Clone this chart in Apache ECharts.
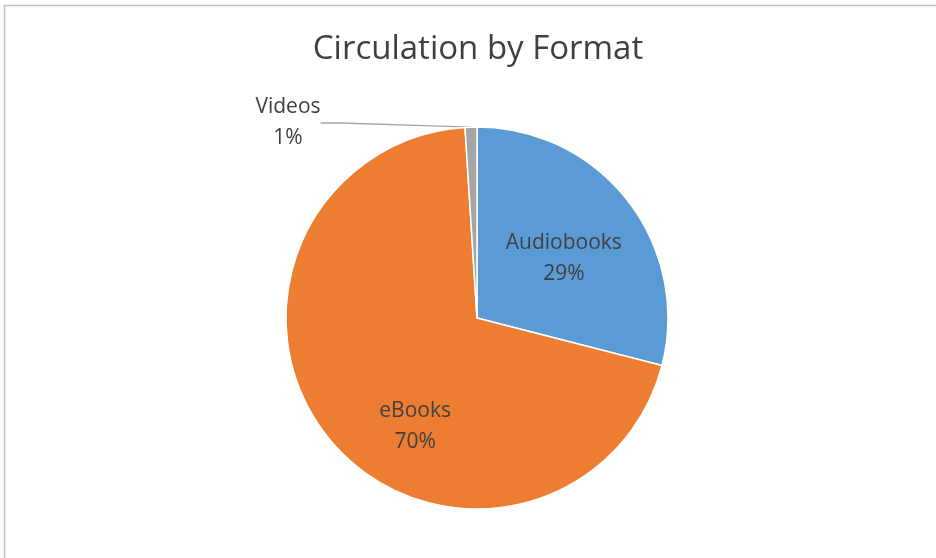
<!DOCTYPE html>
<html>
<head>
<meta charset="utf-8">
<script src="https://cdn.jsdelivr.net/npm/echarts@6/dist/echarts.min.js"></script>
<style>
  html, body { margin: 0; padding: 0; background: #fff; }
  #chart { width: 936px; height: 558px; }
</style>
</head>
<body>
<div id="chart"></div>
<script>
// Circulation share per format
const categories = ['Audiobooks', 'eBooks', 'Videos'];
const shares = [29, 70, 1];
const colors = ['#5B9BD5', '#ED7D31', '#A5A5A5'];

// Label placement tweaks per slice (pixels relative to default spot)
const labelOffsets = {
  Audiobooks: [9, 1],
  eBooks: [14, 46]
};

const chart = echarts.init(document.getElementById('chart'), null, { renderer: 'canvas' });

const labelFont = {
  fontFamily: '"Open Sans", Lato, sans-serif',
  fontSize: 21,
  color: '#404040',
  lineHeight: 31
};

const seriesData = categories.map((name, i) => {
  const item = { name: name, value: shares[i], itemStyle: { color: colors[i] } };
  if (name === 'Videos') {
    item.label = { position: 'outside', ...labelFont, align: 'center' };
    item.labelLine = { show: true, length: 20, length2: 20, lineStyle: { color: '#A6A6A6', width: 1.3 } };
  } else {
    item.label = { position: 'inside', offset: labelOffsets[name], ...labelFont };
    item.labelLine = { show: false };
  }
  return item;
});

chart.setOption({
  animation: false,
  backgroundColor: '#ffffff',
  title: {
    text: 'Circulation by Format',
    left: 473,
    top: 28,
    textAlign: 'center',
    textStyle: {
      fontFamily: '"Open Sans", Lato, sans-serif',
      fontSize: 33,
      fontWeight: 'normal',
      color: '#404040'
    }
  },
  graphic: [{
    type: 'rect',
    shape: { x: 4.5, y: 5.5, width: 1200, height: 1200 },
    style: { fill: 'none', stroke: '#BFBFBF', lineWidth: 1.5 },
    silent: true
  }],
  series: [{
    type: 'pie',
    center: [477, 318],
    radius: [0, 191],
    startAngle: 90,
    clockwise: true,
    avoidLabelOverlap: false,
    itemStyle: { borderColor: '#ffffff', borderWidth: 1.5 },
    label: {
      show: true,
      formatter: '{b}\n{d}%'
    },
    labelLayout: function (params) {
      if (params.dataIndex === 2) {
        return { x: 288, y: 123, align: 'center', verticalAlign: 'middle' };
      }
      return {};
    },
    data: seriesData
  }]
});
</script>
</body>
</html>
